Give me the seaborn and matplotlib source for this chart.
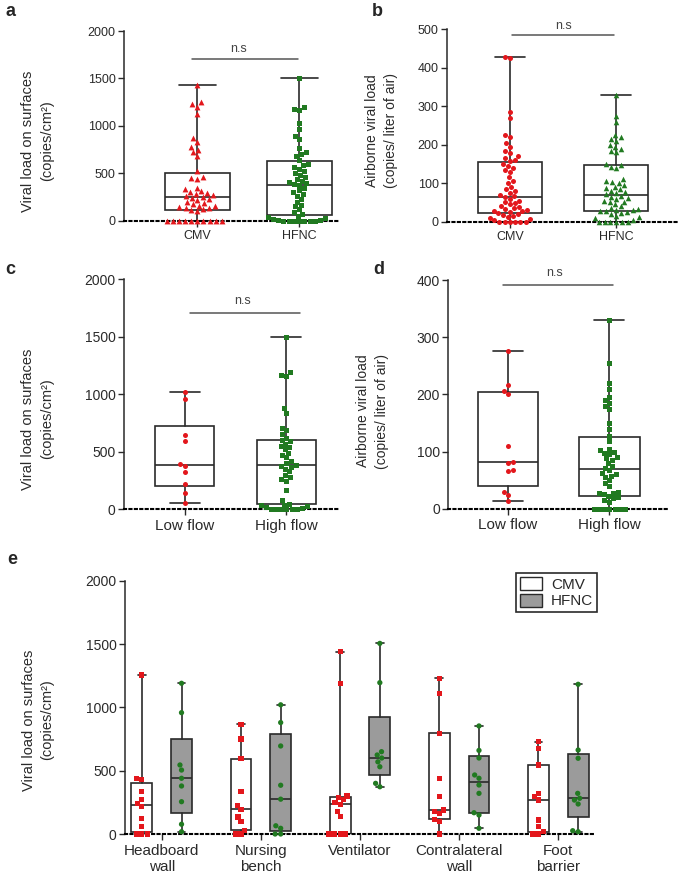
import numpy as np
import pandas as pd
import matplotlib
matplotlib.use("Agg")
import matplotlib.pyplot as plt
from matplotlib.patches import Patch
import seaborn as sns

# --- colours ---
RED = "#e3171c"
GREEN = "#217a21"
GRAY_BOX = "#9b9b9b"
INK = "#2a2a2a"

# --- panel a: surfaces, CMV vs HFNC (copies/cm2) ---
CATS_AB = ["CMV", "HFNC"]
A_CMV = [1430, 1250, 1230, 1200, 1120, 870, 830, 780, 750, 720, 680, 520,
         460, 450, 440, 350, 330, 310, 300, 290, 280, 270, 260, 250,
         240, 230, 220, 200, 190, 180, 160, 150, 140, 130, 130, 120,
         110, 100, 0, 0, 0, 0, 0, 0, 0, 0, 0, 0]
A_HFNC = [1500, 1200, 1180, 1170, 1030, 970, 890, 860, 770, 720, 700, 680, 640,
          600, 590, 570, 550, 520, 500, 480, 460, 440, 420, 410, 395, 385,
          375, 350, 320, 300, 280, 260, 230, 200, 170, 150, 120, 90, 70,
          50, 40, 30, 20, 10, 10, 0, 0, 0, 0, 0, 0, 0]

# --- panel b: airborne, CMV vs HFNC (copies / liter of air) ---
B_CMV = [428, 425, 285, 270, 225, 220, 205, 195, 185, 178, 170, 165, 160, 158,
         150, 145, 140, 135, 130, 115, 105, 100, 90, 85, 80, 75, 70, 67,
         63, 60, 55, 50, 48, 45, 40, 38, 35, 32, 30, 28, 27, 26,
         22, 20, 18, 15, 12, 10, 8, 5, 0, 0, 0, 0, 0, 0]
B_HFNC = [330, 275, 260, 225, 220, 215, 210, 200, 195, 190, 185, 180, 150, 148,
          142, 140, 110, 105, 102, 100, 95, 90, 88, 85, 80, 78, 75, 72,
          68, 65, 62, 60, 55, 52, 50, 45, 40, 35, 32, 30, 30, 29,
          27, 25, 22, 20, 15, 12, 10, 5, 0, 0, 0, 0, 0, 0]

# --- panel c: surfaces, low vs high flow ---
CATS_CD = ["Low flow", "High flow"]
C_LOW = [1020, 955, 643, 597, 393, 378, 320, 222, 141, 54]
C_HIGH = [1500, 1190, 1170, 1160, 880, 840, 710, 690, 650, 620, 600,
          590, 570, 550, 540, 520, 490, 470, 450, 420, 400, 385,
          380, 370, 350, 330, 300, 280, 260, 250, 170, 80, 50,
          40, 35, 30, 20, 10, 0, 0, 0, 0, 0, 0]

# --- panel d: airborne, low vs high flow ---
D_LOW = [275, 217, 205, 200, 109, 82, 80, 68, 66, 30, 24, 13]
D_HIGH = [330, 255, 220, 210, 195, 190, 185, 180, 175, 150, 140, 128,
          118, 104, 102, 100, 97, 95, 90, 88, 85, 80, 75, 72,
          68, 62, 60, 58, 55, 50, 45, 40, 30, 28, 27, 26,
          22, 20, 18, 15, 12, 0, 0, 0, 0, 0, 0, 0]

# --- panel e: surfaces by site ---
SITES = ["Headboard\nwall", "Nursing\nbench", "Ventilator", "Contralateral\nwall", "Foot\nbarrier"]
MODES = ["CMV", "HFNC"]
E_CMV = [
    [1255, 440, 430, 335, 270, 240, 215, 125, 60, 0, 0, 0],
    [865, 750, 595, 335, 225, 195, 135, 100, 30, 0, 0],
    [1440, 1190, 300, 290, 270, 250, 235, 175, 140, 0, 0, 0, 0],
    [1229, 1111, 795, 440, 295, 190, 180, 160, 115, 100, 0],
    [729, 677, 545, 321, 295, 268, 110, 58, 18, 0, 0],
]
E_HFNC = [
    [1190, 958, 545, 505, 440, 379, 255, 77, 18],
    [1020, 880, 695, 385, 275, 65, 45, 0, 0],
    [1505, 1195, 650, 624, 600, 570, 531, 400, 373],
    [853, 660, 600, 466, 440, 387, 321, 168, 150, 45],
    [1182, 663, 598, 321, 282, 268, 237, 26, 18],
]


def box_stats(values):
    # GraphPad style quartiles
    q1, med, q3 = np.percentile(values, [25, 50, 75], method="weibull")
    return dict(med=med, q1=q1, q3=q3, whislo=min(values), whishi=max(values), fliers=[])


def draw_boxes(ax, groups, positions, width, capw, faces):
    art = ax.bxp([box_stats(g) for g in groups], positions=positions, widths=width,
                 capwidths=capw, showfliers=False, patch_artist=True, manage_ticks=False,
                 boxprops=dict(edgecolor=INK, linewidth=1.2),
                 medianprops=dict(color=INK, linewidth=1.2),
                 whiskerprops=dict(color=INK, linewidth=1.2),
                 capprops=dict(color=INK, linewidth=1.2), zorder=2)
    for patch, fc in zip(art["boxes"], faces):
        patch.set_facecolor(fc)


def style_axis(ax, ymax, step, xlim, ticksize, catsize):
    ax.set_ylim(0, ymax)
    ax.set_yticks(np.arange(0, ymax + 1, step))
    ax.set_xlim(*xlim)
    sns.despine(ax=ax)
    ax.spines["left"].set_color(INK)
    ax.spines["left"].set_linewidth(1.1)
    ax.spines["bottom"].set_color("black")
    ax.spines["bottom"].set_linewidth(1.5)
    ax.spines["bottom"].set_linestyle((0, (1.0, 1.6)))
    ax.tick_params(axis="y", length=4, width=1, colors=INK, labelsize=ticksize, pad=2)
    ax.tick_params(axis="x", length=4, width=1, colors=INK, labelsize=catsize, pad=3)
    ax.set_xlabel("")
    ax.set_ylabel("")


def ylabel(ax, text, x, y, size=10.5):
    ax.text(x, y, text, transform=ax.transAxes, rotation=90, ha="center", va="center",
            multialignment="center", linespacing=1.45, fontsize=size, color=INK)


def ns_bar(ax, x0, x1, y, tx, ty):
    ax.plot([x0, x1], [y, y], color="#555555", lw=1.1, clip_on=False)
    ax.text(tx, ty, "n.s", ha="center", va="bottom", fontsize=9, color="#444444", clip_on=False)


def two_group(ax, cats, g1, g2, m1, m2, s1, s2):
    sns.swarmplot(x=[cats[0]] * len(g1), y=g1, order=cats, color=RED, marker=m1, size=s1,
                  ax=ax, zorder=3, clip_on=False)
    sns.swarmplot(x=[cats[1]] * len(g2), y=g2, order=cats, color=GREEN, marker=m2, size=s2,
                  ax=ax, zorder=3, clip_on=False)


sns.set_style("ticks")
plt.rcParams["font.family"] = ["Liberation Sans", "DejaVu Sans"]

fig = plt.figure(figsize=(6.85, 8.81), dpi=100)
W, H = 685.0, 881.0


def add_axes(x0, x1, ytop, ybot):
    return fig.add_axes([x0 / W, 1 - ybot / H, (x1 - x0) / W, (ybot - ytop) / H])


# ---- a ----
ax = add_axes(124, 340, 31, 220.7)
two_group(ax, CATS_AB, A_CMV, A_HFNC, "^", "s", 4.2, 3.6)
draw_boxes(ax, [A_CMV, A_HFNC], [0, 1], 0.64, 0.36, ["white", "white"])
style_axis(ax, 2000, 500, (-0.72, 1.40), 9, 9)
ylabel(ax, "Viral load on surfaces\n(copies/cm²)", -0.40, 0.42)
ns_bar(ax, -0.05, 0.99, 1700, 0.40, 1750)

# ---- b ----
ax = add_axes(447, 677, 29.3, 221.7)
two_group(ax, CATS_AB, B_CMV, B_HFNC, "o", "^", 3.6, 4.0)
draw_boxes(ax, [B_CMV, B_HFNC], [0, 1], 0.6, 0.28, ["white", "white"])
style_axis(ax, 500, 100, (-0.59, 1.57), 9, 9)
ylabel(ax, "Airborne viral load\n(copies/ liter of air)", -0.283, 0.474, 10)
ns_bar(ax, 0.02, 0.98, 485, 0.5, 492)

# ---- c ----
ax = add_axes(124, 340, 279, 509.3)
two_group(ax, CATS_CD, C_LOW, C_HIGH, "o", "s", 3.6, 3.6)
draw_boxes(ax, [C_LOW, C_HIGH], [0, 1], 0.58, 0.3, ["white", "white"])
style_axis(ax, 2000, 500, (-0.60, 1.53), 10, 11)
ylabel(ax, "Viral load on surfaces\n(copies/cm²)", -0.40, 0.392)
ns_bar(ax, 0.05, 1.14, 1702, 0.57, 1760)

# ---- d ----
ax = add_axes(448.3, 670, 280, 508.7)
two_group(ax, CATS_CD, D_LOW, D_HIGH, "o", "s", 3.6, 3.6)
draw_boxes(ax, [D_LOW, D_HIGH], [0, 1], 0.6, 0.3, ["white", "white"])
style_axis(ax, 400, 100, (-0.59, 1.60), 10, 11)
ylabel(ax, "Airborne viral load\n(copies/ liter of air)", -0.34, 0.427, 10)
ns_bar(ax, -0.05, 1.04, 391, 0.46, 401)

# ---- e ----
ax = add_axes(125, 595, 580.7, 834)
rows = []
for site, c_vals, h_vals in zip(SITES, E_CMV, E_HFNC):
    rows += [(site, "CMV", v) for v in c_vals]
    rows += [(site, "HFNC", v) for v in h_vals]
df_e = pd.DataFrame(rows, columns=["Site", "Mode", "Load"])
pal = {"CMV": RED, "HFNC": GREEN}
sns.swarmplot(data=df_e[df_e["Mode"] == "CMV"], x="Site", y="Load", hue="Mode",
              order=SITES, hue_order=MODES, dodge=True, palette=pal, marker="s", size=3.8,
              ax=ax, zorder=3, clip_on=False, legend=False)
sns.swarmplot(data=df_e[df_e["Mode"] == "HFNC"], x="Site", y="Load", hue="Mode",
              order=SITES, hue_order=MODES, dodge=True, palette=pal, marker="o", size=3.8,
              ax=ax, zorder=3, clip_on=False, legend=False)
pos = np.arange(len(SITES))
draw_boxes(ax, E_CMV, pos - 0.2, 0.21, 0.08, ["white"] * len(SITES))
draw_boxes(ax, E_HFNC, pos + 0.2, 0.21, 0.08, [GRAY_BOX] * len(SITES))
style_axis(ax, 2000, 500, (-0.37, 4.37), 10, 11)
ylabel(ax, "Viral load on surfaces\n(copies/cm²)", -0.185, 0.45)
handles = [Patch(facecolor="white", edgecolor=INK, label="CMV"),
           Patch(facecolor=GRAY_BOX, edgecolor=INK, label="HFNC")]
leg = ax.legend(handles=handles, loc="upper right", bbox_to_anchor=(1.004, 1.03),
                borderaxespad=0, fontsize=11, frameon=True, fancybox=False,
                edgecolor=INK, framealpha=1, handlelength=1.4, handleheight=0.9,
                borderpad=0.25, labelspacing=0.15, handletextpad=0.6)
leg.get_frame().set_linewidth(1.2)
for t in leg.get_texts():
    t.set_color(INK)

# panel letters
for letter, (x, y) in {"a": (5, 12), "b": (372, 12), "c": (5, 270),
                       "d": (373, 270), "e": (7, 560)}.items():
    fig.text(x / W, 1 - y / H, letter, fontsize=13, fontweight="bold", ha="left", va="center")

fig.savefig("out.png", dpi=100)
